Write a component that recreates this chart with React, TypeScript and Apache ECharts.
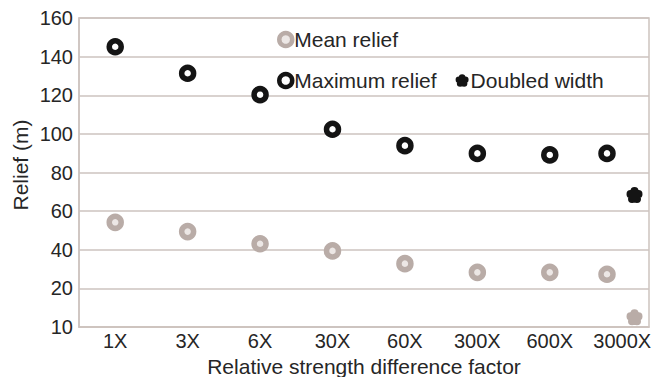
import React, { useEffect, useRef } from "react";
import * as echarts from "echarts";

const categories = ["1X", "3X", "6X", "30X", "60X", "300X", "600X", "3000X"];
const categoryPos = [0, 1, 2, 3, 4, 5, 6, 7];
const meanRelief = [54.2, 49.4, 43.1, 39.4, 32.8, 28.3, 28.3, 27.3];
const maxRelief = [145.1, 131.4, 120.3, 102.4, 93.9, 89.9, 89.1, 89.9];
const pointPos = [0, 1, 2, 3, 4, 5, 6, 6.79];
const doubledPos = 7.17;
const doubledMean = 5;
const doubledMax = 68.3;
const yTickValues = [0, 20, 40, 60, 80, 100, 120, 140, 160];
const yTickLabels = ["10", "20", "40", "60", "80", "100", "120", "140", "160"];

const BLACK = "#141414";
const GRAY = "#b9aca7";
const GRAY_IN = "#ece7e5";
const GRID = "#cdc3bf";
const FONT = "Liberation Sans, Arial, sans-serif";
const TXT = "#262626";
const FS = 20;
const FSW = 21;

function flowerPath(): string {
  let d = "";
  const r = 0.25;
  for (let k = 0; k < 5; k++) {
    const a = (k * 72 - 90) * Math.PI / 180;
    const cx = 0.5 + 0.26 * Math.cos(a);
    const cy = 0.5 + 0.26 * Math.sin(a);
    d += `M${(cx - r).toFixed(3)} ${cy.toFixed(3)}a${r} ${r} 0 1 0 ${2 * r} 0a${r} ${r} 0 1 0 ${-2 * r} 0`;
  }
  d += "M0.3 0.5a0.2 0.2 0 1 0 0.4 0a0.2 0.2 0 1 0 -0.4 0";
  return "path://" + d;
}
const FLOWER = flowerPath();

export default function App() {
  const ref = useRef<HTMLDivElement>(null);
  useEffect(() => {
    if (!ref.current) return;
    const chart = echarts.init(ref.current, null, { renderer: "svg" });
    const legendText = { fontSize: FSW, color: TXT, fontFamily: FONT, padding: [0, 0, 0, -3] };
    chart.setOption({
      animation: false,
      backgroundColor: "#ffffff",
      textStyle: { fontFamily: FONT },
      grid: {
        left: 79, right: 5, top: 18, bottom: 50,
        containLabel: false, outerBoundsMode: "none",
        show: true, borderColor: GRID, borderWidth: 1.5,
      },
      legend: [
        {
          data: ["Mean relief"], left: 272, top: 24, itemWidth: 13, itemHeight: 13,
          itemGap: 17, textStyle: legendText, itemStyle: { borderWidth: 4.5 },
        },
        {
          data: ["Maximum relief", { name: "Doubled width", itemStyle: { borderWidth: 0 } }],
          left: 272, top: 65, itemWidth: 13, itemHeight: 13,
          itemGap: 19, textStyle: legendText, itemStyle: { borderWidth: 4.5 },
        },
      ],
      graphic: [
        {
          type: "text", x: 20, y: 165, rotation: Math.PI / 2,
          style: {
            text: "Relief (m)", fontSize: FSW, fill: TXT, fontFamily: FONT,
            textAlign: "center", textVerticalAlign: "middle",
          },
        },
      ],
      xAxis: {
        type: "value", min: -0.5, max: 7.37,
        name: "Relative strength difference factor", nameLocation: "middle", nameGap: 24,
        nameTextStyle: { fontSize: FSW, color: TXT, fontFamily: FONT },
        axisLine: { show: true, onZero: false, lineStyle: { color: GRID, width: 1.5 } },
        axisTick: { show: false },
        splitLine: { show: false },
        axisLabel: {
          customValues: categoryPos, fontSize: FS, color: TXT, fontFamily: FONT, margin: 4,
          formatter: (v: number) => categories[Math.round(v)] ?? "",
        },
      },
      yAxis: {
        type: "value", min: 0, max: 160, interval: 20,
        axisLine: { show: true, onZero: false, lineStyle: { color: GRID, width: 1.5 } },
        axisTick: { show: false },
        splitLine: { show: true, lineStyle: { color: GRID, width: 1.5 } },
        axisLabel: {
          fontSize: FS, color: TXT, fontFamily: FONT, margin: 6,
          formatter: (v: number) => yTickLabels[yTickValues.indexOf(v)] ?? "",
        },
      },
      series: [
        {
          name: "Mean relief", type: "scatter", symbol: "circle", symbolSize: 12,
          itemStyle: { color: GRAY_IN, borderColor: GRAY, borderWidth: 5.5, opacity: 1 },
          data: meanRelief.map((v, i) => [pointPos[i], v]),
        },
        {
          name: "Maximum relief", type: "scatter", symbol: "circle", symbolSize: 12,
          itemStyle: { color: "#ffffff", borderColor: BLACK, borderWidth: 5.5, opacity: 1 },
          data: maxRelief.map((v, i) => [pointPos[i], v]),
        },
        {
          name: "Doubled width", type: "scatter", symbol: FLOWER, symbolSize: 16,
          itemStyle: { color: BLACK, opacity: 1 },
          data: [
            { value: [doubledPos, doubledMax] },
            { value: [doubledPos, doubledMean], itemStyle: { color: GRAY } },
          ],
        },
      ],
    });
    return () => chart.dispose();
  }, []);
  return (
    <div
      ref={ref}
      style={{ position: "fixed", left: 0, top: 0, width: 654, height: 377, background: "#fff" }}
    />
  );
}
